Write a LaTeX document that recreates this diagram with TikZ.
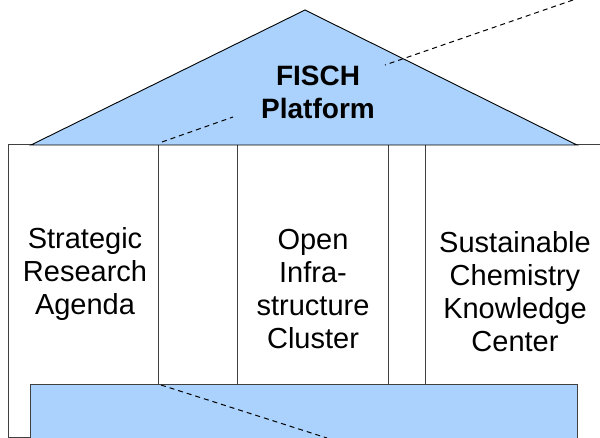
\documentclass[tikz,border=0pt]{standalone}
\usepackage{fontspec}
\setmainfont{Liberation Sans}
\usetikzlibrary{positioning}
\definecolor{roofblue}{RGB}{170,210,252}
\tikzset{
  pillar/.style={draw=black!75,line width=1pt,rectangle,fill=white,inner sep=0pt},
  pillar text/.style={font=\fontsize{29}{33}\selectfont,align=center,inner sep=0pt},
  link/.style={line width=1pt,dash pattern=on 5pt off 4pt}
}

\begin{document}
\begin{tikzpicture}[x=1pt,y=-1pt]
  \useasboundingbox (0,0) rectangle (600,438);

  % pillars
  \node (srapillar) [pillar, minimum width=150pt, minimum height=292pt] at (83,291) {};
  \node (gappillar) [pillar, minimum width=79pt, minimum height=305pt] at (197.5,297.5) {};
  \node (oicpillar) [pillar, minimum width=151pt, minimum height=305pt] at (312.5,297.5) {};
  \node (thinpillar) [pillar, minimum width=37pt, minimum height=305pt] at (406.5,297.5) {};
  \node (sckcpillar) [pillar, minimum width=180pt, minimum height=305pt] at (515,297.5) {};

  % roof
  \draw[fill=roofblue, line width=0.9pt, line join=miter] (31,145) coordinate (roofl) -- (305,10) coordinate (rooftop) -- (577,145) coordinate (roofr) -- cycle;
  \node (roof) [pillar text, font=\fontsize{28}{33}\selectfont\bfseries] at (318,92) {FISCH\\Platform};

  % base
  \node (base) [pillar, fill=roofblue, minimum width=547pt, minimum height=60pt] at (303.5,415) {};

  \node (sra) [pillar text] at (85,274) {Strategic\\Research\\Agenda};
  \node (oic) [pillar text] at (313,289) {Open\\Infra-\\structure\\Cluster};
  \node (sckc) [pillar text] at (515,292) {Sustainable\\Chemistry\\Knowledge\\Center};

  % links
  \coordinate (linkA) at (573,0);
  \coordinate (linkB) at (385,65);
  \coordinate (linkC) at (162,142);
  \coordinate (linkD) at (233,117);
  \coordinate (linkE) at (161,385);
  \coordinate (linkF) at (327,438);
  \draw[link] (linkA) -- (linkB);
  \draw[link] (linkC) -- (linkD);
  \draw[link] (linkE) -- (linkF);

\end{tikzpicture}
\end{document}
